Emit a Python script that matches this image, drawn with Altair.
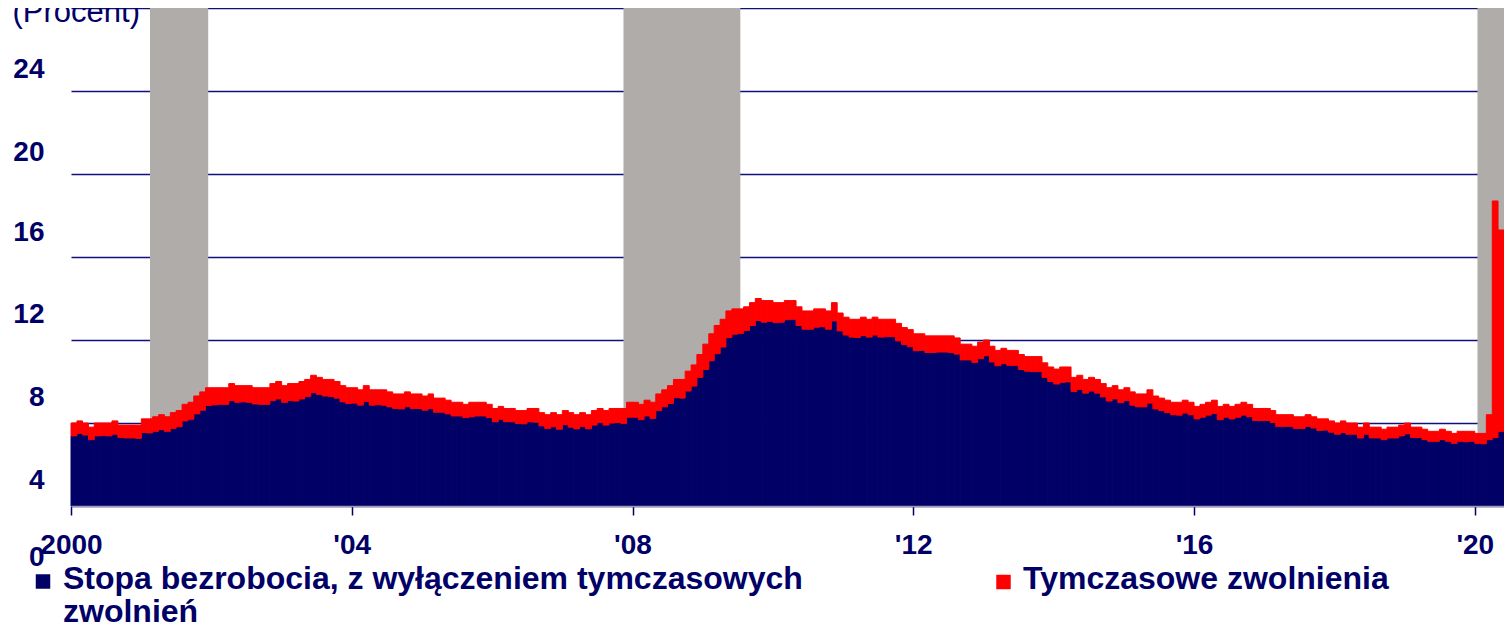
import altair as alt
import pandas as pd

# ---------------- data ----------------
# Unemployment rate, total (percent), monthly Jan 2000 - May 2020
total_rate = [
    4.0, 4.1, 4.0, 3.8, 4.0, 4.0, 4.0, 4.1, 3.9, 3.9, 3.9, 3.9,   # 2000
    4.2, 4.2, 4.3, 4.4, 4.3, 4.5, 4.6, 4.9, 5.0, 5.3, 5.5, 5.7,   # 2001
    5.7, 5.7, 5.7, 5.9, 5.8, 5.8, 5.8, 5.7, 5.7, 5.7, 5.9, 6.0,   # 2002
    5.8, 5.9, 5.9, 6.0, 6.1, 6.3, 6.2, 6.1, 6.1, 6.0, 5.8, 5.7,   # 2003
    5.7, 5.6, 5.8, 5.6, 5.6, 5.6, 5.5, 5.4, 5.4, 5.5, 5.4, 5.4,   # 2004
    5.3, 5.4, 5.2, 5.2, 5.1, 5.0, 5.0, 4.9, 5.0, 5.0, 5.0, 4.9,   # 2005
    4.7, 4.8, 4.7, 4.7, 4.6, 4.6, 4.7, 4.7, 4.5, 4.4, 4.5, 4.4,   # 2006
    4.6, 4.5, 4.4, 4.5, 4.4, 4.6, 4.7, 4.6, 4.7, 4.7, 4.7, 5.0,   # 2007
    5.0, 4.9, 5.1, 5.0, 5.4, 5.6, 5.8, 6.1, 6.1, 6.5, 6.8, 7.3,   # 2008
    7.8, 8.3, 8.7, 9.0, 9.4, 9.5, 9.5, 9.6, 9.8, 10.0, 9.9, 9.9,  # 2009
    9.8, 9.8, 9.9, 9.9, 9.6, 9.4, 9.4, 9.5, 9.5, 9.4, 9.8, 9.3,   # 2010
    9.1, 9.0, 9.0, 9.1, 9.0, 9.1, 9.0, 9.0, 9.0, 8.8, 8.6, 8.5,   # 2011
    8.3, 8.3, 8.2, 8.2, 8.2, 8.2, 8.2, 8.1, 7.8, 7.8, 7.7, 7.9,   # 2012
    8.0, 7.7, 7.5, 7.6, 7.5, 7.5, 7.3, 7.2, 7.2, 7.2, 6.9, 6.7,   # 2013
    6.6, 6.7, 6.7, 6.2, 6.3, 6.1, 6.2, 6.1, 5.9, 5.7, 5.8, 5.6,   # 2014
    5.7, 5.5, 5.4, 5.4, 5.6, 5.3, 5.2, 5.1, 5.0, 5.0, 5.1, 5.0,   # 2015
    4.8, 4.9, 5.0, 5.1, 4.8, 4.9, 4.8, 4.9, 5.0, 4.9, 4.7, 4.7,   # 2016
    4.7, 4.6, 4.4, 4.4, 4.4, 4.3, 4.3, 4.4, 4.3, 4.2, 4.2, 4.1,   # 2017
    4.0, 4.1, 4.0, 4.0, 3.8, 4.0, 3.8, 3.8, 3.7, 3.8, 3.8, 3.9,   # 2018
    4.0, 3.8, 3.8, 3.7, 3.6, 3.6, 3.7, 3.6, 3.5, 3.6, 3.6, 3.6,   # 2019
    3.5, 3.5, 4.4, 14.7, 13.3,                                    # 2020
]

# Temporary layoffs (percent of labour force), same months
temp_layoffs = [
    0.62, 0.60, 0.58, 0.60, 0.62, 0.60, 0.62, 0.64, 0.60, 0.62, 0.62, 0.64,  # 2000
    0.66, 0.68, 0.70, 0.72, 0.70, 0.76, 0.78, 0.80, 0.82, 0.86, 0.88, 0.86,  # 2001
    0.82, 0.80, 0.80, 0.82, 0.80, 0.78, 0.80, 0.78, 0.80, 0.80, 0.82, 0.84,  # 2002
    0.80, 0.82, 0.84, 0.84, 0.82, 0.84, 0.82, 0.80, 0.82, 0.80, 0.78, 0.76,  # 2003
    0.74, 0.74, 0.76, 0.74, 0.72, 0.74, 0.72, 0.70, 0.72, 0.72, 0.70, 0.70,  # 2004
    0.68, 0.70, 0.68, 0.68, 0.66, 0.66, 0.66, 0.64, 0.70, 0.66, 0.66, 0.64,  # 2005
    0.64, 0.62, 0.64, 0.64, 0.62, 0.64, 0.64, 0.66, 0.64, 0.66, 0.68, 0.70,  # 2006
    0.68, 0.70, 0.68, 0.66, 0.68, 0.70, 0.68, 0.70, 0.70, 0.68, 0.72, 0.72,  # 2007
    0.72, 0.74, 0.76, 0.78, 0.80, 0.82, 0.86, 0.88, 0.90, 0.96, 1.02, 1.10,  # 2008
    1.22, 1.30, 1.36, 1.34, 1.28, 1.22, 1.18, 1.14, 1.10, 1.06, 1.04, 1.00,  # 2009
    0.96, 0.94, 0.92, 0.90, 0.90, 0.88, 0.88, 0.88, 0.86, 0.88, 0.88, 0.86,  # 2010
    0.86, 0.86, 0.88, 0.88, 0.86, 0.86, 0.86, 0.84, 0.84, 0.84, 0.82, 0.82,  # 2011
    0.82, 0.80, 0.80, 0.80, 0.78, 0.78, 0.80, 0.78, 0.76, 0.76, 0.78, 0.80,  # 2012
    0.76, 0.76, 0.74, 0.74, 0.72, 0.72, 0.72, 0.70, 0.72, 0.72, 0.70, 0.70,  # 2013
    0.72, 0.74, 0.72, 0.68, 0.68, 0.66, 0.66, 0.66, 0.64, 0.64, 0.64, 0.62,  # 2014
    0.62, 0.64, 0.62, 0.62, 0.64, 0.62, 0.60, 0.60, 0.60, 0.62, 0.62, 0.60,  # 2015
    0.60, 0.62, 0.62, 0.64, 0.64, 0.62, 0.60, 0.62, 0.62, 0.60, 0.58, 0.58,  # 2016
    0.58, 0.58, 0.56, 0.56, 0.56, 0.56, 0.56, 0.56, 0.54, 0.56, 0.54, 0.54,  # 2017
    0.54, 0.56, 0.54, 0.54, 0.52, 0.54, 0.52, 0.52, 0.50, 0.52, 0.52, 0.52,  # 2018
    0.52, 0.50, 0.50, 0.50, 0.48, 0.48, 0.50, 0.48, 0.48, 0.48, 0.50, 0.48,  # 2019
    0.48, 0.50, 1.20, 11.40, 9.70,                                           # 2020
]

# Recession shading (start / end dates)
recession_start = ["2001-02-15", "2007-11-15", "2020-01-15"]
recession_end = ["2001-12-15", "2009-07-15", "2020-06-01"]

# Axis ticks
tick_years = [2000, 2004, 2008, 2012, 2016, 2020]
y_ticks = [0, 4, 8, 12, 16, 20, 24]

legend_labels = ["Stopa bezrobocia, z wyłączeniem tymczasowych\nzwolnień",
                 "Tymczasowe zwolnienia"]

# ---------------- styles ----------------
NAVY = "#000066"
RED = "#FF0000"
GRAY = "#B0ACAA"
FONT = "Liberation Sans, Arial, Helvetica, sans-serif"

months = pd.date_range("2000-01-01", periods=len(total_rate), freq="MS")
df = pd.DataFrame({
    "start": months,
    "end": months + pd.offsets.MonthBegin(1),
    "total": total_rate,
    "temp": temp_layoffs,
})
df["base"] = df["total"] - df["temp"]
df["zero"] = 0.0

rec = pd.DataFrame({"rs": pd.to_datetime(recession_start),
                    "re": pd.to_datetime(recession_end)})

x_scale = alt.Scale(domain=[alt.DateTime(year=2000, month=1, date=1),
                            alt.DateTime(year=2020, month=6, date=1)])
y_scale = alt.Scale(domain=[0, 24], nice=False, zero=True)

x_axis = alt.Axis(
    values=[alt.DateTime(year=y, month=1, date=1) for y in tick_years],
    labelExpr="timeFormat(datum.value, '%Y') == '2000' ? '2000' : \"'\" + timeFormat(datum.value, '%y')",
    grid=False, domainColor="#9A9AB8", domainWidth=1.5,
    tickColor=NAVY, tickSize=9, tickWidth=1.5,
    labelFont=FONT, labelFontSize=28, labelFontWeight="bold", labelColor=NAVY,
    labelBaseline="alphabetic", labelPadding=38, labelAlign="center",
    labelFlush=False, labelOverlap=False, labelBound=False,
    title=None, zindex=1,
)

y_axis = alt.Axis(
    values=y_ticks, grid=True, gridColor="#10107A", gridWidth=1.3,
    domain=False, ticks=False,
    labelFont=FONT, labelFontSize=28, labelFontWeight="bold", labelColor=NAVY,
    labelPadding=27, labelBaseline="alphabetic", labelAlign="right",
    labelOffset={"condition": [{"test": "datum.value == 0", "value": 59},
                               {"test": "datum.value <= 12", "value": 65},
                               {"test": "datum.value <= 16", "value": 66}],
                 "value": 69.5},
    labelOverlap=False, labelFlush=False,
    title="(Procent)", titleAngle=0, titleAlign="left", titleBaseline="alphabetic",
    titleX=-59, titleY=13, titleFont=FONT, titleFontSize=31,
    titleFontWeight="normal", titleColor=NAVY,
)

recessions = alt.Chart(rec).mark_rect(color=GRAY).encode(
    x=alt.X("rs:T", scale=x_scale, axis=x_axis),
    x2="re:T",
    y=alt.Y(datum=24, scale=y_scale, axis=y_axis),
    y2=alt.Y2(datum=0),
)

navy_bars = alt.Chart(df).mark_rect(color=NAVY, stroke=NAVY, strokeWidth=1).encode(
    x=alt.X("start:T", scale=x_scale, axis=x_axis),
    x2="end:T",
    y=alt.Y("zero:Q", scale=y_scale, axis=y_axis),
    y2="base:Q",
)

red_bars = alt.Chart(df).mark_rect(color=RED, stroke=RED, strokeWidth=1).encode(
    x=alt.X("start:T", scale=x_scale, axis=x_axis),
    x2="end:T",
    y=alt.Y("base:Q", scale=y_scale, axis=y_axis),
    y2="total:Q",
)

# legend (drawn below the plot area)
LEG_FS = 32
leg1_sq = alt.Chart(alt.Data(values=[{"label": legend_labels[0]}])).mark_square(
    color=NAVY, size=210, opacity=1).encode(x=alt.value(-28), y=alt.value(573.5))
leg1_tx = alt.Chart(alt.Data(values=[{"label": legend_labels[0]}])).mark_text(
    align="left", baseline="alphabetic", font=FONT, fontSize=LEG_FS, fontWeight="bold",
    color=NAVY, lineBreak="\n", lineHeight=33).encode(
    x=alt.value(-8), y=alt.value(581), text="label:N")
leg2_sq = alt.Chart(alt.Data(values=[{"label": legend_labels[1]}])).mark_square(
    color=RED, size=210, opacity=1).encode(x=alt.value(932.5), y=alt.value(574))
leg2_tx = alt.Chart(alt.Data(values=[{"label": legend_labels[1]}])).mark_text(
    align="left", baseline="alphabetic", font=FONT, fontSize=LEG_FS, fontWeight="bold",
    color=NAVY).encode(x=alt.value(952), y=alt.value(581), text="label:N")

chart = alt.layer(
    recessions, navy_bars, red_bars, leg1_sq, leg1_tx, leg2_sq, leg2_tx
).properties(
    width=1433, height=498,
    autosize=alt.AutoSizeParams(type="none"),
    padding={"left": 63, "top": 0, "right": 0, "bottom": 116},
    background="white",
).configure_view(stroke=None)

chart.save("out.html", embed_options={"renderer": "svg", "actions": False})
